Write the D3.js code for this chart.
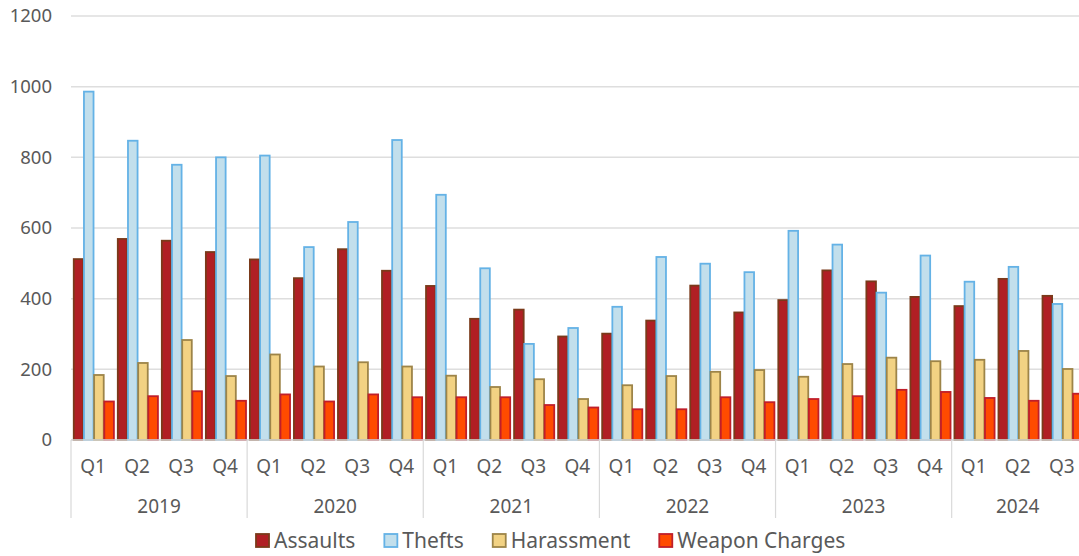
<!DOCTYPE html>
<html>
<head>
<meta charset="utf-8">
<script src="https://cdn.jsdelivr.net/npm/d3@7/dist/d3.min.js"></script>
<style>
  body { margin: 0; background: #fff; }
  svg text { font-family: "Noto Sans", "Open Sans", sans-serif; fill: #595959; }
</style>
</head>
<body>
<div id="chart"></div>
<script>
var years = ["2019", "2020", "2021", "2022", "2023", "2024"];
var periods = ["2019 Q1", "2019 Q2", "2019 Q3", "2019 Q4",
  "2020 Q1", "2020 Q2", "2020 Q3", "2020 Q4",
  "2021 Q1", "2021 Q2", "2021 Q3", "2021 Q4",
  "2022 Q1", "2022 Q2", "2022 Q3", "2022 Q4",
  "2023 Q1", "2023 Q2", "2023 Q3", "2023 Q4",
  "2024 Q1", "2024 Q2", "2024 Q3"];
var seriesNames = ["Assaults", "Thefts", "Harassment", "Weapon Charges"];
var assaults = [512, 569, 564, 532, 511, 458, 540, 479, 436, 343, 369, 293, 301, 338, 437, 361, 396, 480, 449, 405, 379, 456, 408];
var thefts = [986, 847, 779, 800, 805, 546, 617, 849, 694, 486, 272, 317, 377, 518, 499, 475, 592, 553, 417, 522, 448, 490, 385];
var harassment = [184, 218, 283, 181, 242, 208, 220, 208, 182, 150, 172, 116, 155, 181, 193, 198, 179, 215, 233, 223, 227, 252, 201];
var weapons = [109, 124, 138, 111, 129, 109, 129, 121, 121, 121, 99, 92, 87, 87, 121, 107, 116, 124, 142, 136, 119, 111, 131];
var yTicks = [0, 200, 400, 600, 800, 1000, 1200];

var fills = ["#b01f24", "#c2dfec", "#f2d283", "#ff4b00"];
var strokes = ["#7a3a1a", "#64b2e6", "#9d8448", "#c01f2a"];

var w = 1079, h = 556;
var plotLeft = 71, plotRight = 1084, plotTop = 16, plotBottom = 440;

var svg = d3.select("#chart").append("svg").attr("width", w).attr("height", h);

var y = d3.scaleLinear().domain([0, 1200]).range([plotBottom, plotTop]);
var x = d3.scaleBand().domain(periods).range([plotLeft, plotRight]).paddingInner(0.075).paddingOuter(0.04);
var step = x.step();
var xs = d3.scaleBand().domain(seriesNames).range([0, x.bandwidth()]);

// gridlines
svg.append("g").selectAll("line").data(yTicks).join("line")
  .attr("x1", plotLeft).attr("x2", w)
  .attr("y1", function(d) { return y(d); }).attr("y2", function(d) { return y(d); })
  .attr("stroke", "#dedede").attr("stroke-width", 1.5);

// y labels
svg.append("g").selectAll("text").data(yTicks).join("text")
  .attr("x", 52).attr("y", function(d) { return y(d); })
  .attr("dy", "0.35em").attr("text-anchor", "end")
  .attr("font-size", 18.5).text(function(d) { return d; });

// bars
var data = [assaults, thefts, harassment, weapons];
var bars = svg.append("g");
seriesNames.forEach(function(name, si) {
  bars.append("g").selectAll("rect").data(data[si]).join("rect")
    .attr("x", function(d, i) { return x(periods[i]) + xs(name) + 1; })
    .attr("y", function(d) { return y(d); })
    .attr("width", xs.bandwidth() - 0.6)
    .attr("height", function(d) { return y(0) - y(d); })
    .attr("fill", fills[si]).attr("stroke", strokes[si]).attr("stroke-width", 1.8);
});

// category axis
svg.append("line").attr("x1", plotLeft).attr("x2", w).attr("y1", plotBottom).attr("y2", plotBottom)
  .attr("stroke", "#d9d9d9").attr("stroke-width", 1.5);

var yearStart = years.map(function(yr) { return plotLeft + periods.indexOf(yr + " Q1") * step; });
svg.append("g").selectAll("line").data(yearStart).join("line")
  .attr("x1", function(d) { return d; }).attr("x2", function(d) { return d; })
  .attr("y1", plotBottom).attr("y2", 518)
  .attr("stroke", "#d9d9d9").attr("stroke-width", 1.2);

svg.append("g").selectAll("text").data(periods).join("text")
  .attr("x", function(d) { return plotLeft + periods.indexOf(d) * step + step / 2; })
  .attr("y", 473).attr("text-anchor", "middle").attr("font-size", 19)
  .text(function(d) { return d.split(" ")[1]; });

svg.append("g").selectAll("text").data(years).join("text")
  .attr("x", function(d) {
    var qs = periods.filter(function(p) { return p.indexOf(d) === 0; });
    return plotLeft + periods.indexOf(qs[0]) * step + qs.length * step / 2;
  })
  .attr("y", 513).attr("text-anchor", "middle").attr("font-size", 19)
  .text(function(d) { return d; });

// legend
var legend = svg.append("g");
var lx = 255;
seriesNames.forEach(function(name, si) {
  legend.append("rect").attr("x", lx + 1).attr("y", 534).attr("width", 13).attr("height", 13)
    .attr("fill", fills[si]).attr("stroke", strokes[si]).attr("stroke-width", 1.8);
  var t = legend.append("text").attr("x", lx + 19).attr("y", 541).attr("dy", "0.35em")
    .attr("font-size", 21).text(name);
  lx += 19 + t.node().getComputedTextLength() + 28;
});
</script>
</body>
</html>
